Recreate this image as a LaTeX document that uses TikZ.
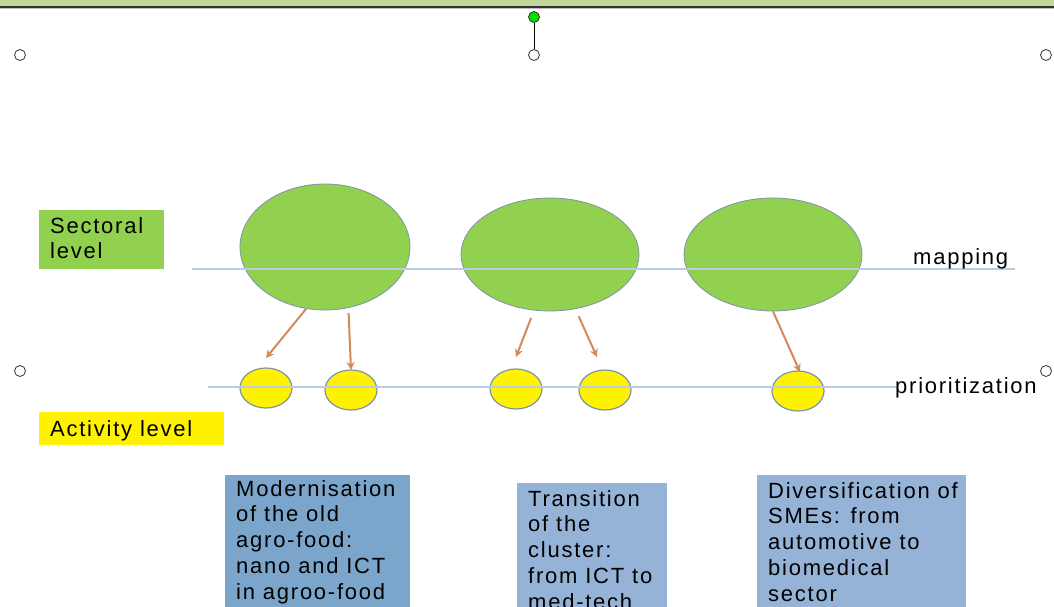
\documentclass[tikz,border=0pt]{standalone}
\usepackage{fontspec}
\setmainfont{Liberation Sans}[LetterSpace=8]
\usetikzlibrary{arrows.meta,shapes.geometric}
\definecolor{bargreen}{HTML}{C4D79B}
\definecolor{ellgreen}{HTML}{92D050}
\definecolor{ellborder}{HTML}{7F93A8}
\definecolor{linblue}{HTML}{B9CDE5}
\definecolor{arrcol}{HTML}{D4895A}
\definecolor{boxblueA}{HTML}{7CA5CB}
\definecolor{boxblueB}{HTML}{95B3D7}
\definecolor{handlegreen}{HTML}{00E000}
\tikzset{
  txt/.style={font=\fontsize{22}{25.8}\selectfont, inner sep=0pt, align=left, anchor=north west},
  bigell/.style={ellipse, draw=ellborder, line width=0.8pt, fill=ellgreen, inner sep=0pt},
  smallell/.style={ellipse, draw=ellborder, line width=1.2pt, fill=yellow, minimum width=52pt, minimum height=40pt, inner sep=0pt},
  level/.style={line width=2.5pt, draw=linblue},
  arr/.style={draw=arrcol, line width=2pt, -{Stealth[length=8pt,width=8pt]}},
  handle/.style={circle, draw=black!80, fill=white, line width=0.8pt, minimum size=11pt, inner sep=0pt},
}
\begin{document}
\begin{tikzpicture}[x=1pt,y=-1pt]
\useasboundingbox (0,0) rectangle (1054,607);
\fill[white] (0,0) rectangle (1054,607);
% top bar
\fill[bargreen] (0,0) rectangle (1054,6);
\fill[black!80] (0,6) rectangle (1054,8);
\fill[black!25] (0,8) rectangle (1054,9);
% selection handles
\node[handle] (h1) at (20,55) {};
\node[handle] (h2) at (534,55) {};
\node[handle] (h3) at (1046,55) {};
\node[handle] (h4) at (20,371) {};
\node[handle] (h5) at (1046,371) {};
\node[handle, fill=handlegreen] (hg) at (534,17) {};
\draw[black, line width=1pt] (hg) -- (h2);
% label boxes
\fill[ellgreen] (39,210) rectangle (164,269);
\node[txt] (sect) at (50,217) {Sectoral\\level};
\fill[yellow] (39,412) rectangle (224,445);
\node[txt] (act) at (50,420) {Activity level};
% big ellipses
\node[bigell, minimum width=170pt, minimum height=126pt] (g1) at (325,247) {};
\node[bigell, minimum width=178pt, minimum height=113pt] (g2) at (550,254.5) {};
\node[bigell, minimum width=178pt, minimum height=113pt] (g3) at (773,254.5) {};
% small ellipses
\node[smallell] (y1) at (266,388) {};
\node[smallell] (y2) at (351,390) {};
\node[smallell] (y3) at (516,389) {};
\node[smallell] (y4) at (605,390) {};
\node[smallell] (y5) at (798,391) {};
% level lines
\coordinate (m0) at (192,269);
\coordinate (m1) at (1015,269);
\draw[level] (m0) -- (m1);
\coordinate (p0) at (208,387);
\coordinate (p1) at (897,387);
\draw[level] (p0) -- (p1);
\node[txt, anchor=base west] (map) at (913,264) {mapping};
\node[txt, anchor=base west] (prio) at (895,393) {prioritization};
% arrows
\coordinate (t1) at (266,358);
\coordinate (t2) at (351,370);
\coordinate (t3) at (516,357);
\coordinate (t4) at (597,357);
\coordinate (t5) at (800,372);
\draw[arr] (g1.-107) -- (t1);
\draw[arr, shorten <=5pt] (g1.-69) -- (t2);
\draw[arr, shorten <=8pt] (g2.-106) -- (t3);
\draw[arr, shorten <=8pt] (g2.-65) -- (t4);
\draw[arr] (g3.-90) -- (t5);
% text boxes
\fill[boxblueA] (225,475) rectangle (410,610);
\node[txt] (b1) at (236,480) {Modernisation\\of the old\\agro-food:\\nano and ICT\\in agroo-food};
\fill[boxblueB] (517,483) rectangle (667,610);
\node[txt] (b2) at (528,490) {Transition\\of the\\cluster:\\from ICT to\\med-tech};
\fill[boxblueB] (757,475) rectangle (966,610);
\node[txt] (b3) at (768,482) {Diversification of\\SMEs: from\\automotive to\\biomedical\\sector};
\end{tikzpicture}
\end{document}
